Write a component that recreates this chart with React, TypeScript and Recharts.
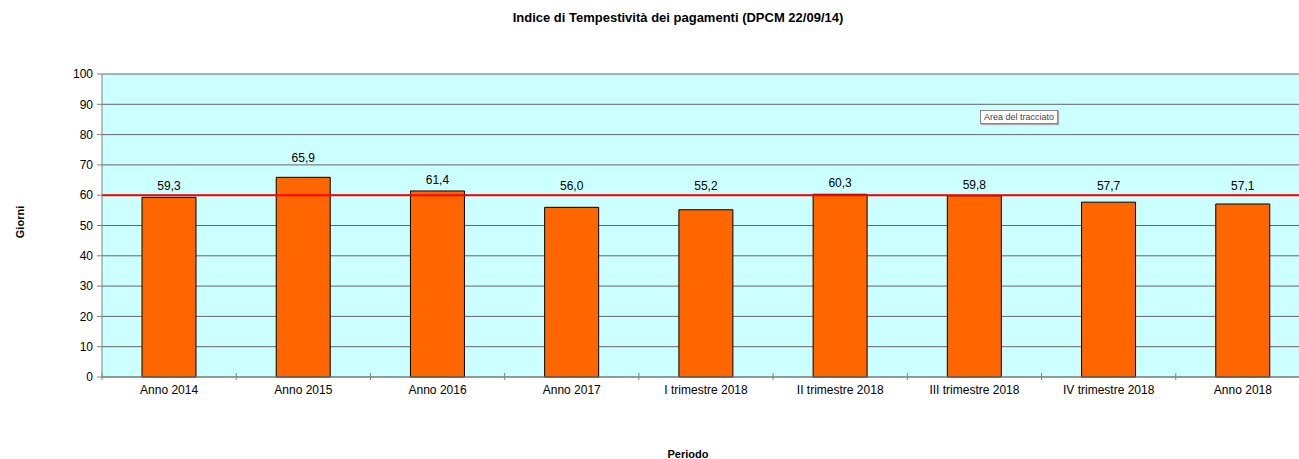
import React from "react";
import {
  Bar,
  BarChart,
  CartesianGrid,
  LabelList,
  ReferenceLine,
  XAxis,
  YAxis,
} from "recharts";

const periods = [
  "Anno 2014",
  "Anno 2015",
  "Anno 2016",
  "Anno 2017",
  "I trimestre 2018",
  "II trimestre 2018",
  "III trimestre 2018",
  "IV trimestre 2018",
  "Anno 2018",
];
const giorni = [59.3, 65.9, 61.4, 56.0, 55.2, 60.3, 59.8, 57.7, 57.1];
const yTicks = [0, 10, 20, 30, 40, 50, 60, 70, 80, 90, 100];
const soglia = 60;

const data = periods.map((periodo, i) => ({ periodo, giorni: giorni[i] }));

const FONT = '"Liberation Sans", Arial, sans-serif';
const CHART_W = 1330;
const CHART_H = 459;
const MARGIN = { top: 74, right: 20, left: 42, bottom: 52 };
const Y_W = 60;
const PLOT_W = CHART_W - MARGIN.left - MARGIN.right - Y_W;
const PLOT_H = CHART_H - MARGIN.top - MARGIN.bottom - 30;
const HALF_BAND = PLOT_W / periods.length / 2;
// labels of bars below the threshold line are lifted above it (as in the Excel original)
const LABEL_FLOOR = MARGIN.top + PLOT_H * (1 - 59.3 / 100);

function PeriodTick(props: any) {
  const { x, y, payload } = props;
  return (
    <g>
      <line x1={x - HALF_BAND} x2={x - HALF_BAND} y1={y - 4} y2={y + 3} stroke="#808080" />
      <text
        x={x}
        y={y + 17}
        textAnchor="middle"
        fontSize={12}
        fontFamily={FONT}
        fill="#000"
      >
        {payload.value}
      </text>
    </g>
  );
}

function ValueLabel(props: any) {
  const { x, y, width, value } = props;
  const top = Math.min(y, LABEL_FLOOR);
  const lift = value > 65 ? 19 : 11;
  return (
    <text
      x={x + width / 2}
      y={top - lift}
      textAnchor="middle"
      dominantBaseline="central"
      fontSize={12}
      fontFamily={FONT}
      fill="#000"
    >
      {Number(value).toFixed(1).replace(".", ",")}
    </text>
  );
}

export default function App() {
  return (
    <div
      style={{
        position: "absolute",
        left: 0,
        top: 0,
        width: 1299,
        height: 459,
        overflow: "hidden",
        background: "#fff",
        fontFamily: FONT,
      }}
    >
      <BarChart width={CHART_W} height={CHART_H} data={data} margin={MARGIN}>
        <CartesianGrid vertical={false} stroke="#666" fill="#ccffff" fillOpacity={1} />
        <XAxis
          dataKey="periodo"
          interval={0}
          height={30}
          tickSize={0}
          tickMargin={0}
          tickLine={false}
          axisLine={{ stroke: "#808080" }}
          tick={<PeriodTick />}
        />
        <YAxis
          width={Y_W}
          domain={[0, 100]}
          ticks={yTicks}
          interval={0}
          tickSize={5}
          tickMargin={4}
          tickLine={{ stroke: "#808080" }}
          axisLine={{ stroke: "#808080" }}
          tick={{ fill: "#000", fontSize: 12, fontFamily: FONT }}
        />
        <Bar
          dataKey="giorni"
          fill="#ff6600"
          stroke="#000"
          strokeWidth={1}
          barSize={54}
          isAnimationActive={false}
        >
          <LabelList dataKey="giorni" content={<ValueLabel />} />
        </Bar>
        <ReferenceLine y={soglia} stroke="#ff0000" strokeWidth={2} ifOverflow="visible" />
      </BarChart>

      <div
        style={{
          position: "absolute",
          left: 0,
          width: 1356,
          top: 10,
          textAlign: "center",
          fontSize: 13,
          fontWeight: "bold",
        }}
      >
        Indice di Tempestività dei pagamenti (DPCM 22/09/14)
      </div>
      <div
        style={{
          position: "absolute",
          left: 20,
          top: 222,
          fontSize: 11,
          fontWeight: "bold",
          transform: "translate(-50%, -50%) rotate(-90deg)",
        }}
      >
        Giorni
      </div>
      <div
        style={{
          position: "absolute",
          left: 688,
          top: 454,
          fontSize: 11,
          fontWeight: "bold",
          transform: "translate(-50%, -50%)",
        }}
      >
        Periodo
      </div>
      <div
        style={{
          position: "absolute",
          left: 980,
          top: 110,
          padding: "1px 3px",
          fontSize: 9,
          color: "#444",
          background: "#fff",
          border: "1px solid #888",
          boxShadow: "1px 1px 1px #aaa",
        }}
      >
        Area del tracciato
      </div>
    </div>
  );
}
